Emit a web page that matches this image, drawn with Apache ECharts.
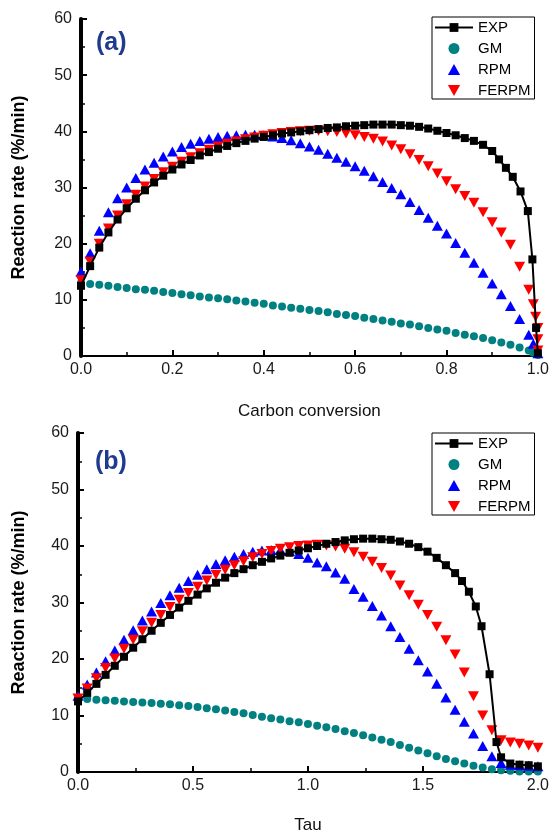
<!DOCTYPE html>
<html>
<head>
<meta charset="utf-8">
<script src="https://cdn.jsdelivr.net/npm/echarts@6/dist/echarts.min.js"></script>
<style>
  html, body { margin: 0; padding: 0; background: #fff; }
  #chart { width: 552px; height: 835px; }
</style>
</head>
<body>
<div id="chart"></div>
<script>
// ---- panel (a): reaction rate vs carbon conversion ----
var convExpA = [0, 0.02, 0.04, 0.06, 0.08, 0.10, 0.12, 0.14, 0.16, 0.18, 0.20, 0.22, 0.24, 0.26, 0.28, 0.30,
  0.32, 0.34, 0.36, 0.38, 0.40, 0.42, 0.44, 0.46, 0.48, 0.50, 0.52, 0.54, 0.56, 0.58, 0.60, 0.62, 0.64, 0.66,
  0.68, 0.70, 0.72, 0.74, 0.76, 0.78, 0.80, 0.82, 0.84, 0.86, 0.88, 0.90, 0.915, 0.93, 0.945, 0.962, 0.978,
  0.988, 0.996, 1.0];
var expA = [12.5, 16.0, 19.3, 22.0, 24.3, 26.3, 28.0, 29.5, 30.9, 32.1, 33.2, 34.1, 34.9, 35.7, 36.3, 36.9,
  37.4, 37.9, 38.3, 38.7, 39.0, 39.3, 39.6, 39.8, 40.0, 40.2, 40.4, 40.6, 40.7, 40.9, 41.0, 41.1, 41.2, 41.2,
  41.2, 41.1, 41.0, 40.8, 40.5, 40.1, 39.7, 39.3, 38.8, 38.3, 37.6, 36.5, 35.0, 33.5, 31.9, 29.3, 25.8,
  17.2, 5.0, 0.5];

var convModelA = [0, 0.02, 0.04, 0.06, 0.08, 0.10, 0.12, 0.14, 0.16, 0.18, 0.20, 0.22, 0.24, 0.26, 0.28, 0.30,
  0.32, 0.34, 0.36, 0.38, 0.40, 0.42, 0.44, 0.46, 0.48, 0.50, 0.52, 0.54, 0.56, 0.58, 0.60, 0.62, 0.64, 0.66,
  0.68, 0.70, 0.72, 0.74, 0.76, 0.78, 0.80, 0.82, 0.84, 0.86, 0.88, 0.90, 0.92, 0.94, 0.96, 0.98, 0.99, 1.0];
var gmA = [13.0, 12.8, 12.7, 12.5, 12.3, 12.1, 11.9, 11.8, 11.6, 11.4, 11.2, 11.0, 10.8, 10.6, 10.4, 10.3,
  10.1, 9.9, 9.7, 9.5, 9.3, 9.0, 8.8, 8.6, 8.4, 8.2, 8.0, 7.8, 7.5, 7.3, 7.1, 6.8, 6.6, 6.3,
  6.1, 5.8, 5.6, 5.3, 5.0, 4.7, 4.5, 4.1, 3.8, 3.5, 3.2, 2.8, 2.4, 2.0, 1.5, 1.0, 0.6, 0.2];
var rpmA = [15.0, 18.3, 22.3, 25.6, 28.1, 30.0, 31.7, 33.2, 34.4, 35.5, 36.4, 37.2, 37.8, 38.3, 38.7, 39.0,
  39.2, 39.3, 39.4, 39.4, 39.3, 39.1, 38.8, 38.4, 37.9, 37.3, 36.7, 36.0, 35.3, 34.6, 33.8, 33.0, 32.0, 31.0,
  29.9, 28.8, 27.4, 26.0, 24.6, 23.2, 21.8, 20.1, 18.4, 16.6, 14.8, 12.9, 11.0, 8.9, 6.6, 3.8, 2.2, 0.5];

var convFerpmA = [0, 0.02, 0.04, 0.06, 0.08, 0.10, 0.12, 0.14, 0.16, 0.18, 0.20, 0.22, 0.24, 0.26, 0.28, 0.30,
  0.32, 0.34, 0.36, 0.38, 0.40, 0.42, 0.44, 0.46, 0.48, 0.50, 0.52, 0.54, 0.56, 0.58, 0.60, 0.62, 0.64, 0.66,
  0.68, 0.70, 0.72, 0.74, 0.76, 0.78, 0.80, 0.82, 0.84, 0.86, 0.88, 0.90, 0.92, 0.94, 0.96, 0.98, 0.99, 0.995,
  1.0, 1.0, 1.0];
var ferpmA = [13.5, 16.8, 20.0, 22.7, 25.0, 27.0, 28.7, 30.2, 31.5, 32.7, 33.7, 34.6, 35.4, 36.1, 36.7, 37.3,
  37.8, 38.2, 38.6, 38.9, 39.2, 39.5, 39.7, 39.9, 40.0, 40.1, 40.1, 40.0, 39.9, 39.6, 39.3, 39.0, 38.7, 38.2,
  37.5, 36.8, 35.9, 34.9, 33.8, 32.5, 31.1, 29.7, 28.5, 27.3, 25.6, 23.8, 22.0, 19.8, 15.9, 11.8, 9.2, 7.0,
  5.0, 3.0, 1.0];

// ---- panel (b): reaction rate vs tau ----
var tauModel = [0, 0.04, 0.08, 0.12, 0.16, 0.20, 0.24, 0.28, 0.32, 0.36, 0.40, 0.44, 0.48, 0.52, 0.56, 0.60,
  0.64, 0.68, 0.72, 0.76, 0.80, 0.84, 0.88, 0.92, 0.96, 1.00, 1.04, 1.08, 1.12, 1.16, 1.20, 1.24, 1.28, 1.32,
  1.36, 1.40, 1.44, 1.48, 1.52, 1.56, 1.60, 1.64, 1.68, 1.72, 1.76, 1.80, 1.84, 1.88, 1.92, 1.96, 2.00];
var gmB = [13.0, 12.9, 12.8, 12.7, 12.6, 12.5, 12.4, 12.3, 12.2, 12.1, 12.0, 11.8, 11.7, 11.5, 11.3, 11.1,
  10.9, 10.6, 10.4, 10.1, 9.8, 9.5, 9.3, 9.0, 8.8, 8.5, 8.2, 7.9, 7.6, 7.2, 6.9, 6.5, 6.1, 5.7,
  5.3, 4.8, 4.3, 3.8, 3.3, 2.8, 2.3, 1.9, 1.5, 1.1, 0.8, 0.5, 0.3, 0.2, 0.1, 0.1, 0.1];
var rpmB = [13.5, 15.5, 17.6, 19.6, 21.5, 23.4, 25.1, 26.8, 28.4, 29.9, 31.3, 32.6, 33.8, 34.9, 35.9, 36.8,
  37.5, 38.1, 38.6, 39.0, 39.2, 39.3, 39.3, 39.1, 38.6, 37.9, 37.1, 36.4, 35.3, 34.2, 32.4, 31.0, 29.4, 27.7,
  25.8, 23.9, 21.8, 19.8, 17.8, 15.6, 13.2, 11.0, 8.9, 6.8, 4.6, 2.8, 1.6, 1.3, 1.2, 1.1, 1.0];
var ferpmB = [13.0, 14.8, 16.6, 18.4, 20.1, 21.8, 23.4, 24.9, 26.4, 27.8, 29.2, 30.5, 31.7, 32.8, 33.9, 34.9,
  35.8, 36.6, 37.3, 38.0, 38.6, 39.1, 39.5, 39.8, 40.0, 40.1, 40.2, 40.1, 39.9, 39.5, 38.9, 38.1, 37.2, 36.1,
  34.8, 33.0, 31.3, 29.6, 27.8, 25.7, 23.3, 20.8, 17.6, 13.4, 10.0, 7.4, 5.6, 5.2, 5.0, 4.7, 4.3];

var tauExp = [0, 0.04, 0.08, 0.12, 0.16, 0.20, 0.24, 0.28, 0.32, 0.36, 0.40, 0.44, 0.48, 0.52, 0.56, 0.60,
  0.64, 0.68, 0.72, 0.76, 0.80, 0.84, 0.88, 0.92, 0.96, 1.00, 1.04, 1.08, 1.12, 1.16, 1.20, 1.24, 1.28, 1.32,
  1.36, 1.40, 1.44, 1.48, 1.52, 1.56, 1.60, 1.64, 1.67, 1.70, 1.73, 1.755, 1.79, 1.82, 1.84, 1.88, 1.92,
  1.96, 2.00];
var expB = [12.5, 14.0, 15.6, 17.2, 18.8, 20.4, 22.0, 23.5, 25.0, 26.4, 27.8, 29.1, 30.3, 31.4, 32.5, 33.5,
  34.4, 35.2, 35.9, 36.6, 37.2, 37.8, 38.3, 38.8, 39.2, 39.6, 40.0, 40.4, 40.7, 41.0, 41.2, 41.3, 41.3, 41.2,
  41.1, 40.8, 40.4, 39.8, 39.0, 37.9, 36.6, 35.2, 33.8, 31.9, 29.3, 25.8, 17.3, 5.3, 2.6, 1.5, 1.3,
  1.2, 1.0];

var seriesNames = ['EXP', 'GM', 'RPM', 'FERPM'];
var xTicksA = { min: 0, max: 1, interval: 0.2 };
var xTicksB = { min: 0, max: 2, interval: 0.5 };
var yTicks = { min: 0, max: 60, interval: 10 };

function zip(xs, ys) {
  return xs.map(function (x, i) { return [x, ys[i]]; });
}

var upTri = 'path://M5,0 L10,9 L0,9 Z';
var downTri = 'path://M0,0 L10,0 L5,9 Z';
var font = 'Liberation Sans, Arial, sans-serif';
var labelColor = '#1a1a1a';

function xAxisCfg(grid, t, name, digits, gap) {
  return {
    type: 'value', gridIndex: grid, min: t.min, max: t.max, interval: t.interval,
    name: name, nameLocation: 'middle', nameGap: gap,
    nameTextStyle: { fontSize: 17, color: '#111', fontFamily: font },
    axisLine: { lineStyle: { color: '#000', width: 2 } },
    axisTick: { inside: true, length: 6, lineStyle: { color: '#000', width: 2 } },
    minorTick: { show: true, splitNumber: 2, length: 4, lineStyle: { color: '#000', width: 1.5 } },
    axisLabel: { fontSize: 16, color: labelColor, margin: 6, fontFamily: font,
      formatter: function (v) { return v.toFixed(digits); } },
    splitLine: { show: false }
  };
}
function yAxisCfg(grid, gap) {
  return {
    type: 'value', gridIndex: grid, min: yTicks.min, max: yTicks.max, interval: yTicks.interval,
    name: 'Reaction rate (%/min)', nameLocation: 'middle', nameGap: gap,
    nameTextStyle: { fontSize: 18, color: '#000', fontWeight: 'bold', fontFamily: font },
    axisLine: { lineStyle: { color: '#000', width: 2 } },
    axisTick: { inside: true, length: 6, lineStyle: { color: '#000', width: 2 } },
    minorTick: { show: true, splitNumber: 2, length: 4, lineStyle: { color: '#000', width: 1.5 } },
    axisLabel: { fontSize: 16, color: labelColor, margin: 9, fontFamily: font },
    splitLine: { show: false }
  };
}
function frameX(grid, t) {
  return { type: 'value', gridIndex: grid, position: 'top', min: t.min, max: t.max,
    axisLine: { lineStyle: { color: '#000', width: 1.5 } },
    axisTick: { show: false }, axisLabel: { show: false }, splitLine: { show: false } };
}
function frameY(grid) {
  return { type: 'value', gridIndex: grid, position: 'right', min: 0, max: 60,
    axisLine: { lineStyle: { color: '#000', width: 4 } },
    axisTick: { show: false }, axisLabel: { show: false }, splitLine: { show: false } };
}

function panelSeries(axisIdx, expX, expY, gmX, gmY, rpmX, rpmY, ferX, ferY) {
  return [
    { name: 'EXP', type: 'line', xAxisIndex: axisIdx, yAxisIndex: axisIdx, data: zip(expX, expY),
      symbol: 'rect', symbolSize: 8, showAllSymbol: true, color: '#000',
      lineStyle: { color: '#000', width: 2 }, itemStyle: { color: '#000' } },
    { name: 'GM', type: 'scatter', xAxisIndex: axisIdx, yAxisIndex: axisIdx, data: zip(gmX, gmY),
      symbol: 'circle', symbolSize: 8, itemStyle: { color: '#008080', opacity: 1 } },
    { name: 'RPM', type: 'scatter', xAxisIndex: axisIdx, yAxisIndex: axisIdx, data: zip(rpmX, rpmY),
      symbol: upTri, symbolSize: [11, 10], itemStyle: { color: '#0000ff', opacity: 1 } },
    { name: 'FERPM', type: 'scatter', xAxisIndex: axisIdx, yAxisIndex: axisIdx, data: zip(ferX, ferY),
      symbol: downTri, symbolSize: [11, 10], itemStyle: { color: '#ff0000', opacity: 1 } }
  ];
}

function legendCfg(top) {
  return {
    data: seriesNames, orient: 'vertical', left: 432, top: top,
    itemWidth: 38, itemHeight: 11, itemGap: 6,
    padding: [3, 4, 1, 2], backgroundColor: '#fff',
    borderColor: '#000', borderWidth: 1,
    textStyle: { fontSize: 15, color: '#000', fontFamily: font }
  };
}

var chart = echarts.init(document.getElementById('chart'));
var option = {
  animation: false,
  backgroundColor: '#fff',
  textStyle: { fontFamily: font },
  grid: [
    { left: 81, top: 19, width: 457, height: 337 },
    { left: 78, top: 433, width: 462, height: 340 }
  ],
  xAxis: [
    xAxisCfg(0, xTicksA, 'Carbon conversion', 1, 47),
    xAxisCfg(1, xTicksB, 'Tau', 1, 45),
    frameX(0, xTicksA),
    frameX(1, xTicksB)
  ],
  yAxis: [
    yAxisCfg(0, 53),
    yAxisCfg(1, 50),
    frameY(0),
    frameY(1)
  ],
  legend: [legendCfg(17), legendCfg(433)],
  graphic: [
    { type: 'text', left: 96, top: 31, style: { text: '(a)', fontSize: 25, fontWeight: 'bold', fill: '#1f3b8f', fontFamily: font } },
    { type: 'text', left: 95, top: 450, style: { text: '(b)', fontSize: 25, fontWeight: 'bold', fill: '#1f3b8f', fontFamily: font } }
  ],
  series: [].concat(
    panelSeries(0, convExpA, expA, convModelA, gmA, convModelA, rpmA, convFerpmA, ferpmA),
    panelSeries(1, tauExp, expB, tauModel, gmB, tauModel, rpmB, tauModel, ferpmB)
  )
};
chart.setOption(option);
</script>
</body>
</html>
